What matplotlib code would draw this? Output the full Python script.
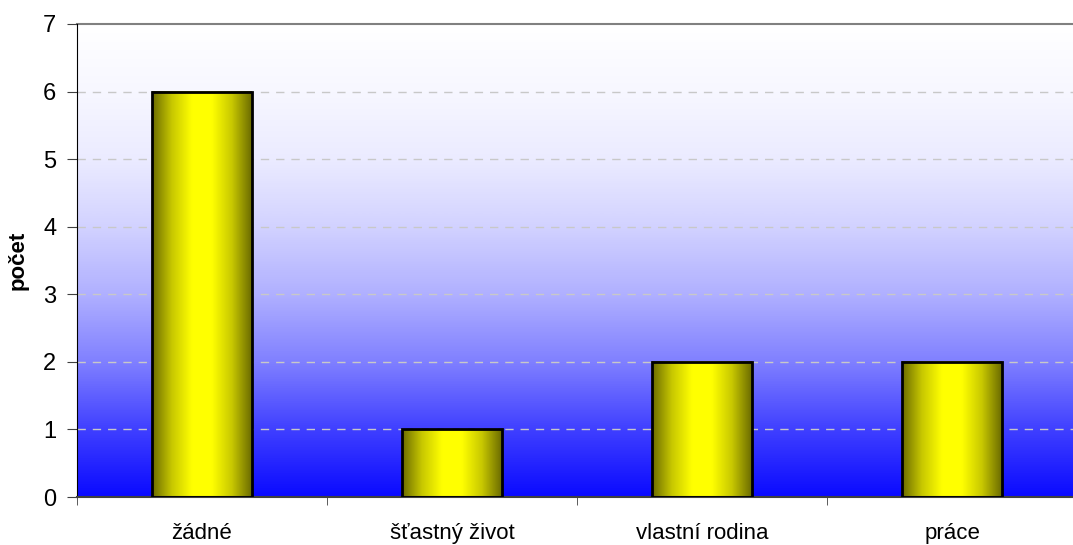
import numpy as np
import matplotlib
matplotlib.use("Agg")
from matplotlib import pyplot as plt
from matplotlib.colors import LinearSegmentedColormap

# Daten
kategorie = ["žádné", "šťastný život", "vlastní rodina", "práce"]
pocet = [6, 1, 2, 2]
y_ticks = [0, 1, 2, 3, 4, 5, 6, 7]

plt.rcParams['font.family'] = ['Liberation Sans', 'DejaVu Sans']

fig = plt.figure(figsize=(10.73, 5.45), dpi=100)
ax = fig.add_axes([77 / 1073, 48 / 545, 1000 / 1073, 473 / 545])

ax.set_xlim(-0.5, len(kategorie) - 0.5)
ax.set_ylim(0, 7)

# Hintergrund: oben weiss, unten blau (nicht linear)
bg = LinearSegmentedColormap.from_list("bg", [
    (0.0, "#0a0aff"), (1 / 7, "#4040ff"), (2 / 7, "#8080ff"),
    (3 / 7, "#b0b0ff"), (4 / 7, "#d2d2ff"), (5 / 7, "#ebebff"),
    (6 / 7, "#f7f7ff"), (1.0, "#ffffff")])
grad = np.linspace(0, 1, 512).reshape(-1, 1)
ax.imshow(grad, cmap=bg, origin="lower", aspect="auto",
          extent=[-0.5, len(kategorie) - 0.5, 0, 7], zorder=0)

# Gitterlinien
for t in y_ticks[1:-1]:
    ax.axhline(t, color="#c8c8c8", lw=1, ls=(0, (6, 5)), zorder=1)
ax.axhline(7, color="#808080", lw=1.5, zorder=1, clip_on=False)

# Balken mit horizontalem Verlauf
barbreite = 0.4
bar_cm = LinearSegmentedColormap.from_list(
    "bar", ["#6b6b00", "#c8c800", "#ffff00", "#ffff00", "#c8c800", "#6b6b00"])
hgrad = np.linspace(0, 1, 256).reshape(1, -1)
for i, v in enumerate(pocet):
    ax.imshow(hgrad, cmap=bar_cm, aspect="auto",
              extent=[i - barbreite / 2, i + barbreite / 2, 0, v], zorder=2)
ax.bar(range(len(kategorie)), pocet, width=barbreite, facecolor="none",
       edgecolor="black", linewidth=2, zorder=3)

ax.set_xlim(-0.5, len(kategorie) - 0.5)
ax.set_ylim(0, 7)

# Achsen
ax.set_xticks(range(len(kategorie)))
ax.set_xticklabels(kategorie, fontsize=16)
ax.tick_params(axis="x", which="major", length=0, pad=19)
ax.set_xticks(np.arange(-0.5, len(kategorie), 1), minor=True)
ax.tick_params(axis="x", which="minor", length=6, color="#404040")

ax.set_yticks(y_ticks)
ax.tick_params(axis="y", labelsize=17, length=7, color="#404040", pad=8)
ax.set_ylabel("počet", fontsize=16, fontweight="bold", labelpad=10)

ax.spines["top"].set_visible(False)
ax.spines["right"].set_visible(False)
ax.spines["left"].set_color("black")
ax.spines["bottom"].set_color("#404040")
ax.spines["bottom"].set_linewidth(1.5)

fig.savefig("out.png", dpi=100)
